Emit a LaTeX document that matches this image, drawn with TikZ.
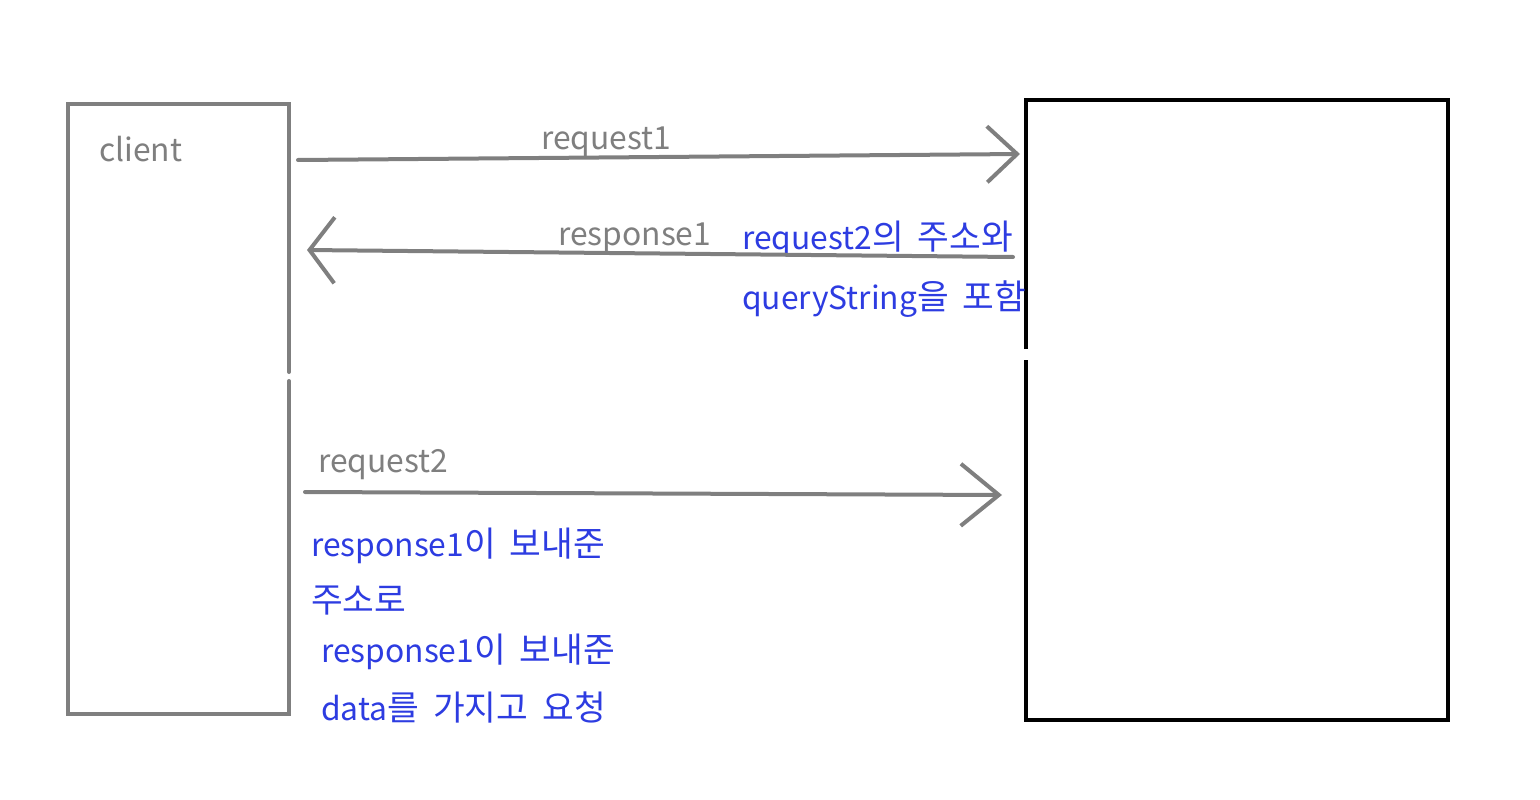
\documentclass[tikz,border=0pt]{standalone}
\usepackage{fontspec}
\setmainfont{Noto Sans CJK KR}
\usetikzlibrary{arrows.meta}
\definecolor{pengray}{RGB}{127,127,127}
\definecolor{penblue}{RGB}{45,60,225}
\newcommand{\penfont}{\fontsize{31.8}{38}\selectfont\spaceskip=14pt plus 0pt minus 0pt\relax}
\newcommand{\hk}[1]{{\fontsize{34.5}{38}\selectfont\spaceskip=14pt plus 0pt minus 0pt\relax #1}}
\tikzset{
  graybox/.style={draw=pengray, line width=4pt, line cap=round},
  blackbox/.style={draw=black, line width=4pt},
  pen/.style={draw=pengray, line width=4pt, line cap=round, line join=round},
  graytext/.style={text=pengray, font=\penfont, inner sep=0pt, anchor=base west},
  bluetext/.style={text=penblue, font=\penfont, inner sep=0pt, anchor=base west}
}
\begin{document}
\begin{tikzpicture}[x=1pt,y=-1pt]
\useasboundingbox (0,0) rectangle (1540,800);
% client box (gap on right side)
\draw[graybox] (289,372) -- (289,104) -- (68,104) -- (68,714) -- (289,714) -- (289,381);
% server box (gap on left side)
\draw[blackbox] (1026,349) -- (1026,100) -- (1448,100) -- (1448,720) -- (1026,720) -- (1026,360);
\node[draw=none, minimum width=221pt, minimum height=610pt] (client) at (178.5,409) {};
\node[draw=none, minimum width=422pt, minimum height=620pt] (server) at (1237,410) {};
% texts
\node[graytext] (tclient) at (99,161) {client};
\node[graytext] (treq1) at (541,149) {request1};
\node[graytext] (tres1) at (558,245) {response1};
\node[graytext] (treq2) at (318,472) {request2};
\node[bluetext] (b1) at (742,249) {request2\hk{의 주소와}};
\node[bluetext] (b2) at (742,309) {queryString\hk{을 포함}};
\node[bluetext] (b3) at (311,556) {response1\hk{이 보내준}};
\node[bluetext] (b4) at (311,612) {\hk{주소로}};
\node[bluetext] (b5) at (321,662) {response1\hk{이 보내준}};
\node[bluetext] (b6) at (321,720) {data\hk{를 가지고 요청}};
% arrows
\coordinate (r1s) at (298,160);
\coordinate (r1e) at (1020,154);
\coordinate (s1s) at (1013,257);
\coordinate (s1e) at (307,250);
\coordinate (r2s) at (305,492);
\coordinate (r2e) at (1002,495);
\draw[pen, -{Straight Barb[length=30pt, width=56pt, line width=4pt]}] (r1s) -- (r1e);
\draw[pen, -{Straight Barb[length=25pt, width=66pt, line width=4pt]}] (s1s) -- (s1e);
\draw[pen, -{Straight Barb[length=38pt, width=62pt, line width=4pt]}] (r2s) -- (r2e);
\end{tikzpicture}
\end{document}
